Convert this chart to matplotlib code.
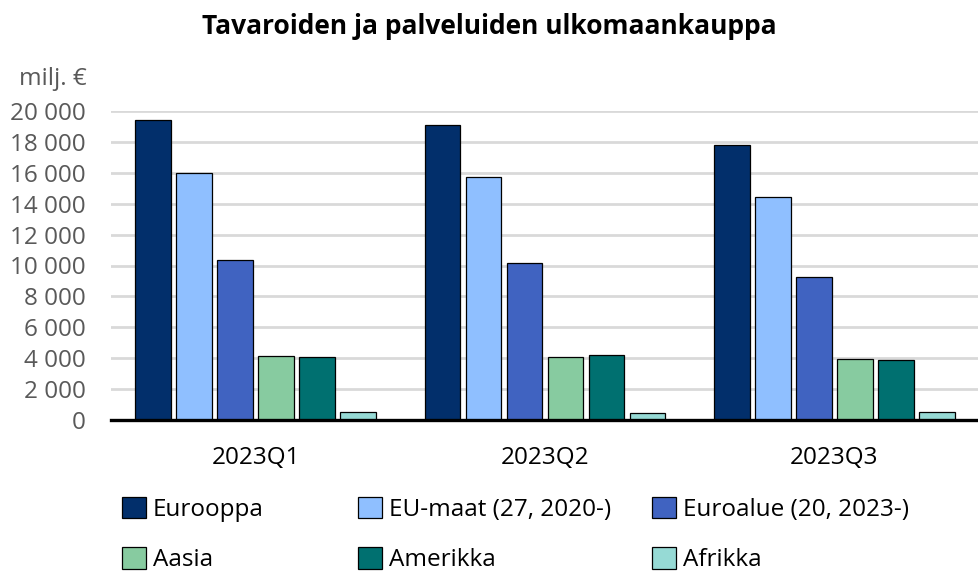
import matplotlib
matplotlib.use("Agg")
import matplotlib.pyplot as plt
import numpy as np
from matplotlib.patches import Patch

plt.rcParams["font.family"] = ["Open Sans", "DejaVu Sans"]

QUARTERS = ["2023Q1", "2023Q2", "2023Q3"]
SERIES = ["Eurooppa", "EU-maat (27, 2020-)", "Euroalue (20, 2023-)",
          "Aasia", "Amerikka", "Afrikka"]
eurooppa = [19400, 19100, 17800]
eu_maat = [16000, 15700, 14450]
euroalue = [10350, 10180, 9250]
aasia = [4150, 4050, 3950]
amerikka = [4100, 4220, 3900]
afrikka = [500, 480, 540]
COLORS = ["#022f6b", "#8fbfff", "#4063c1", "#87cba0", "#007070", "#96dad5"]
YTICKS = [0, 2000, 4000, 6000, 8000, 10000, 12000, 14000, 16000, 18000, 20000]

values = [eurooppa, eu_maat, euroalue, aasia, amerikka, afrikka]
GREY = "#595959"

fig = plt.figure(figsize=(9.79, 5.74), dpi=100)
ax = fig.add_axes([111 / 979, 1 - 420 / 574, 1 - 111 / 979, (420 - 111) / 574])

x = np.arange(len(QUARTERS))
pitch = 0.1417
width = 0.124
for i, (vals, col, lab) in enumerate(zip(values, COLORS, SERIES)):
    ax.bar(x + (i - 2.5) * pitch, vals, width, color=col, edgecolor="black",
           linewidth=0.9, label=lab, zorder=3)

ax.set_xlim(-0.5, 2.5)
ax.set_ylim(0, 20000)
ax.set_yticks(YTICKS)
ax.set_yticklabels([f"{v:,}".replace(",", " ") for v in YTICKS])
ax.set_xticks(x)
ax.set_xticklabels(QUARTERS)
ax.tick_params(axis="y", length=0, pad=18, labelsize=17.5, labelcolor=GREY)
ax.tick_params(axis="x", length=0, pad=19, labelsize=17.5)
ax.grid(axis="y", color="#d9d9d9", linewidth=2, zorder=0)
for s in ["top", "right", "left"]:
    ax.spines[s].set_visible(False)
ax.spines["bottom"].set_linewidth(2.4)
ax.spines["bottom"].set_zorder(4)

fig.text(0.5, 1 - 27 / 574, "Tavaroiden ja palveluiden ulkomaankauppa",
         ha="center", va="center", fontsize=19, fontweight="bold")
fig.text(87 / 979, 1 - 79 / 574, "milj. \u20ac", ha="right", va="center",
         fontsize=17.5, color=GREY)

# legend: three columns, placed like the original
cols = [(0, 3), (1, 4), (2, 5)]
xpos = [122, 358, 652]
for (a, b), xp in zip(cols, xpos):
    handles = [Patch(facecolor=COLORS[k], edgecolor="black", linewidth=0.9)
               for k in (a, b)]
    fig.legend(handles, [SERIES[a], SERIES[b]], loc="upper left",
               bbox_to_anchor=(xp / 979, 1 - 497 / 574), frameon=False,
               fontsize=17.5, handlelength=0.98, handleheight=0.98,
               handletextpad=0.3, labelspacing=1.04, borderpad=0,
               borderaxespad=0)

fig.savefig("out.png", dpi=100)
